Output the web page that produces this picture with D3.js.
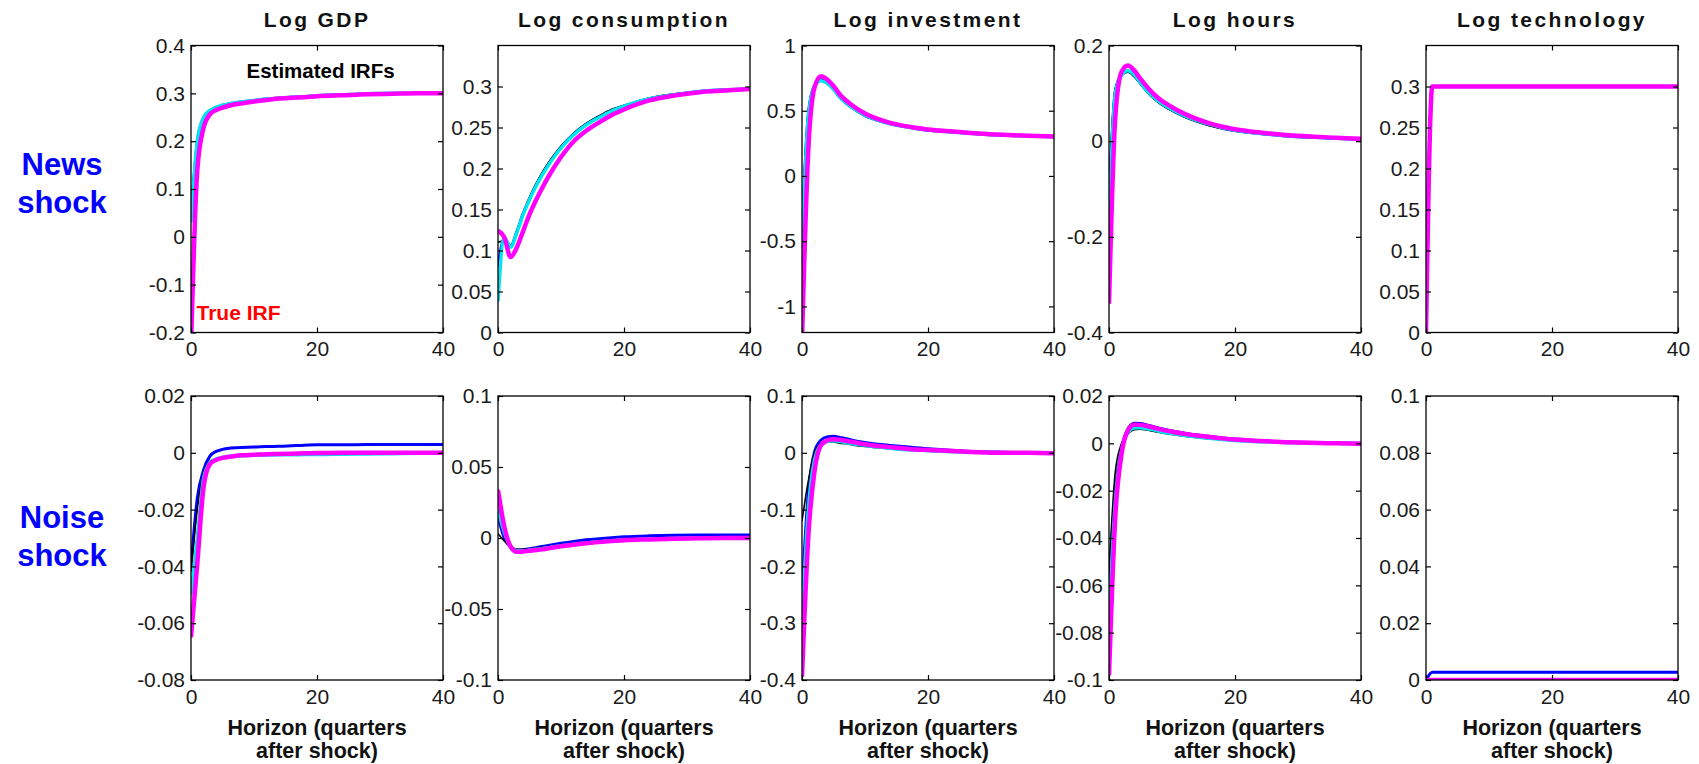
<!DOCTYPE html>
<html>
<head>
<meta charset="utf-8">
<script src="https://cdn.jsdelivr.net/npm/d3@7"></script>
<style>
    body { margin: 0; background: #fff; }
    svg { display: block; font-family: "Liberation Sans", Arial, sans-serif; }
</style>
</head>
<body>
<div id="chart"></div>
<script>
// Horizons (quarters after shock) at which the IRFs are read
const horizons = [0, 1, 2, 3, 4, 5, 6, 7, 8, 10, 12, 14, 16, 18, 20, 24, 28, 32, 36, 40];

const panelTitles = ["Log GDP", "Log consumption", "Log investment", "Log hours", "Log technology"];
const rowLabels = [["News", "shock"], ["Noise", "shock"]];
const xTicks = [0, 20, 40];
const xLabel = ["Horizon (quarters", "after shock)"];

// Y ranges and tick labels, news row then noise row
const newsYDomains = [[-0.2, 0.4], [0, 0.35], [-1.2, 1], [-0.4, 0.2], [0, 0.35]];
const newsYTicks = [
    [-0.2, -0.1, 0, 0.1, 0.2, 0.3, 0.4],
    [0, 0.05, 0.1, 0.15, 0.2, 0.25, 0.3],
    [-1, -0.5, 0, 0.5, 1],
    [-0.4, -0.2, 0, 0.2],
    [0, 0.05, 0.1, 0.15, 0.2, 0.25, 0.3]
];
const noiseYDomains = [[-0.08, 0.02], [-0.1, 0.1], [-0.4, 0.1], [-0.1, 0.02], [0, 0.1]];
const noiseYTicks = [
    [-0.08, -0.06, -0.04, -0.02, 0, 0.02],
    [-0.1, -0.05, 0, 0.05, 0.1],
    [-0.4, -0.3, -0.2, -0.1, 0, 0.1],
    [-0.1, -0.08, -0.06, -0.04, -0.02, 0, 0.02],
    [0, 0.02, 0.04, 0.06, 0.08, 0.1]
];

// News shock: estimated IRFs (blue, black, cyan) and true IRF (magenta)
const newsGdpBlue    = [0.04, 0.198, 0.249, 0.264, 0.27, 0.275, 0.278, 0.28, 0.282, 0.285, 0.288, 0.29, 0.292, 0.293, 0.295, 0.297, 0.298, 0.299, 0.3, 0.3];
const newsGdpBlack   = [0.06, 0.195, 0.248, 0.263, 0.27, 0.275, 0.278, 0.28, 0.282, 0.285, 0.288, 0.29, 0.292, 0.294, 0.295, 0.297, 0.299, 0.3, 0.301, 0.301];
const newsGdpCyan    = [0.03, 0.2, 0.25, 0.264, 0.271, 0.275, 0.278, 0.28, 0.282, 0.285, 0.288, 0.29, 0.292, 0.293, 0.295, 0.297, 0.299, 0.3, 0.3, 0.301];
const newsGdpTrue    = [-0.23, 0.14, 0.228, 0.256, 0.265, 0.27, 0.274, 0.277, 0.279, 0.283, 0.286, 0.289, 0.291, 0.292, 0.294, 0.296, 0.298, 0.299, 0.3, 0.3];

const newsConsBlue   = [0.08, 0.114, 0.105, 0.123, 0.145, 0.163, 0.179, 0.193, 0.205, 0.226, 0.242, 0.254, 0.263, 0.271, 0.276, 0.285, 0.29, 0.294, 0.296, 0.297];
const newsConsBlack  = [0.11, 0.112, 0.106, 0.124, 0.146, 0.165, 0.181, 0.195, 0.207, 0.227, 0.243, 0.255, 0.264, 0.272, 0.277, 0.286, 0.291, 0.294, 0.296, 0.297];
const newsConsCyan   = [0.038, 0.116, 0.104, 0.122, 0.144, 0.162, 0.178, 0.192, 0.204, 0.225, 0.241, 0.253, 0.262, 0.27, 0.276, 0.285, 0.29, 0.294, 0.296, 0.297];
const newsConsTrue   = [0.124, 0.116, 0.092, 0.104, 0.124, 0.144, 0.161, 0.176, 0.19, 0.214, 0.233, 0.246, 0.256, 0.265, 0.272, 0.283, 0.289, 0.293, 0.295, 0.297];

const newsInvBlue    = [-0.45, 0.47, 0.695, 0.735, 0.713, 0.667, 0.603, 0.558, 0.523, 0.463, 0.427, 0.4, 0.38, 0.364, 0.351, 0.336, 0.322, 0.313, 0.306, 0.301];
const newsInvBlack   = [-0.35, 0.5, 0.7, 0.74, 0.715, 0.665, 0.6, 0.555, 0.52, 0.46, 0.425, 0.398, 0.378, 0.363, 0.35, 0.335, 0.321, 0.312, 0.305, 0.3];
const newsInvCyan    = [-0.55, 0.45, 0.69, 0.73, 0.71, 0.665, 0.605, 0.56, 0.525, 0.465, 0.428, 0.4, 0.38, 0.365, 0.352, 0.336, 0.322, 0.313, 0.306, 0.301];
const newsInvTrue    = [-1.25, 0.2, 0.68, 0.765, 0.74, 0.69, 0.625, 0.578, 0.54, 0.478, 0.437, 0.407, 0.386, 0.37, 0.356, 0.34, 0.325, 0.315, 0.308, 0.303];

const newsHoursBlue  = [-0.13, 0.105, 0.139, 0.146, 0.137, 0.121, 0.105, 0.092, 0.081, 0.065, 0.052, 0.042, 0.034, 0.027, 0.022, 0.016, 0.011, 0.008, 0.006, 0.004];
const newsHoursBlack = [-0.09, 0.11, 0.137, 0.144, 0.135, 0.119, 0.103, 0.09, 0.079, 0.063, 0.05, 0.04, 0.032, 0.026, 0.021, 0.015, 0.011, 0.008, 0.005, 0.003];
const newsHoursCyan  = [-0.17, 0.1, 0.138, 0.147, 0.139, 0.122, 0.106, 0.093, 0.082, 0.066, 0.053, 0.043, 0.035, 0.028, 0.023, 0.016, 0.012, 0.009, 0.006, 0.004];
const newsHoursTrue  = [-0.34, 0.05, 0.145, 0.158, 0.148, 0.13, 0.114, 0.1, 0.088, 0.071, 0.057, 0.046, 0.037, 0.03, 0.025, 0.018, 0.013, 0.01, 0.007, 0.005];

const newsTechBlue   = [0, 0.3, 0.3, 0.3, 0.3, 0.3, 0.3, 0.3, 0.3, 0.3, 0.3, 0.3, 0.3, 0.3, 0.3, 0.3, 0.3, 0.3, 0.3, 0.3];
const newsTechBlack  = [0, 0.3, 0.3, 0.3, 0.3, 0.3, 0.3, 0.3, 0.3, 0.3, 0.3, 0.3, 0.3, 0.3, 0.3, 0.3, 0.3, 0.3, 0.3, 0.3];
const newsTechCyan   = [0, 0.3, 0.3, 0.3, 0.3, 0.3, 0.3, 0.3, 0.3, 0.3, 0.3, 0.3, 0.3, 0.3, 0.3, 0.3, 0.3, 0.3, 0.3, 0.3];
const newsTechTrue   = [0, 0.3, 0.3, 0.3, 0.3, 0.3, 0.3, 0.3, 0.3, 0.3, 0.3, 0.3, 0.3, 0.3, 0.3, 0.3, 0.3, 0.3, 0.3, 0.3];

// Noise shock
const noiseGdpBlue    = [-0.04, -0.016, -0.006, -0.0012, 0.0005, 0.0012, 0.0016, 0.0018, 0.0019, 0.002, 0.0022, 0.0023, 0.0025, 0.0027, 0.0028, 0.0028, 0.0029, 0.0029, 0.0029, 0.0029];
const noiseGdpBlack   = [-0.042, -0.02, -0.007, -0.003, -0.002, -0.0015, -0.0012, -0.001, -0.0009, -0.0008, -0.0008, -0.0007, -0.0006, -0.0006, -0.0005, -0.0004, -0.0003, -0.0002, -0.0002, -0.0001];
const noiseGdpCyan    = [-0.05, -0.03, -0.009, -0.0035, -0.0022, -0.0016, -0.0013, -0.0011, -0.001, -0.0009, -0.0008, -0.0007, -0.0007, -0.0006, -0.0006, -0.0005, -0.0004, -0.0003, -0.0002, -0.0002];
const noiseGdpTrue    = [-0.065, -0.039, -0.012, -0.004, -0.0025, -0.0018, -0.0014, -0.0011, -0.0009, -0.0007, -0.0005, -0.0004, -0.0003, -0.0002, -0.0001, 0, 0, 0, 0, 0];

const noiseConsBlue   = [0.015, 0, -0.0065, -0.0085, -0.0082, -0.0076, -0.0068, -0.006, -0.0052, -0.0037, -0.0024, -0.0013, -0.0005, 0.0002, 0.0008, 0.0015, 0.0019, 0.0021, 0.0022, 0.0022];
const noiseConsBlack  = [0.003, -0.002, -0.006, -0.008, -0.008, -0.0077, -0.0072, -0.0066, -0.006, -0.0048, -0.0038, -0.003, -0.0023, -0.0017, -0.0012, -0.0007, -0.0003, 0, 0, 0];
const noiseConsCyan   = [0.02, 0.004, -0.006, -0.009, -0.009, -0.0085, -0.008, -0.0075, -0.0068, -0.0055, -0.0044, -0.0035, -0.0027, -0.002, -0.0015, -0.0009, -0.0005, -0.0002, 0, 0];
const noiseConsTrue   = [0.034, 0.008, -0.006, -0.0097, -0.0095, -0.009, -0.0085, -0.008, -0.0072, -0.0058, -0.0047, -0.0037, -0.0029, -0.0022, -0.0016, -0.001, -0.0005, -0.0002, 0, 0];

const noiseInvBlue    = [-0.25, -0.07, 0.002, 0.022, 0.028, 0.029, 0.027, 0.025, 0.022, 0.018, 0.015, 0.013, 0.011, 0.009, 0.007, 0.004, 0.002, 0.001, 0, 0];
const noiseInvBlack   = [-0.12, -0.05, 0, 0.016, 0.019, 0.019, 0.017, 0.016, 0.014, 0.011, 0.009, 0.007, 0.005, 0.004, 0.003, 0.002, 0.001, 0, 0, 0];
const noiseInvCyan    = [-0.3, -0.1, -0.012, 0.014, 0.02, 0.021, 0.02, 0.018, 0.016, 0.013, 0.01, 0.008, 0.006, 0.005, 0.004, 0.002, 0.001, 0, -0.001, -0.001];
const noiseInvTrue    = [-0.394, -0.148, -0.031, 0.013, 0.022, 0.024, 0.023, 0.021, 0.019, 0.015, 0.012, 0.01, 0.008, 0.006, 0.005, 0.003, 0.001, 0, 0, -0.001];

const noiseHoursBlue  = [-0.06, -0.02, -0.002, 0.006, 0.0085, 0.0084, 0.0078, 0.0071, 0.0064, 0.0052, 0.0043, 0.0035, 0.0029, 0.0023, 0.0018, 0.0011, 0.0006, 0.0003, 0.0001, 0];
const noiseHoursBlack = [-0.055, -0.012, 0, 0.004, 0.0058, 0.006, 0.0056, 0.0051, 0.0046, 0.0037, 0.003, 0.0024, 0.0019, 0.0015, 0.0011, 0.0006, 0.0003, 0.0001, 0, -0.0001];
const noiseHoursCyan  = [-0.075, -0.025, -0.003, 0.0045, 0.0065, 0.0066, 0.0062, 0.0057, 0.0051, 0.0041, 0.0033, 0.0027, 0.0021, 0.0016, 0.0012, 0.0007, 0.0003, 0.0001, 0, -0.0002];
const noiseHoursTrue  = [-0.098, -0.031, -0.0044, 0.0055, 0.0079, 0.0078, 0.0073, 0.0067, 0.006, 0.0049, 0.004, 0.0033, 0.0027, 0.0021, 0.0016, 0.001, 0.0005, 0.0002, 0, -0.0002];

const noiseTechBlue   = [0, 0.0027, 0.0027, 0.0027, 0.0027, 0.0027, 0.0027, 0.0027, 0.0027, 0.0027, 0.0027, 0.0027, 0.0027, 0.0027, 0.0027, 0.0027, 0.0027, 0.0027, 0.0027, 0.0027];
const noiseTechBlack  = [0, 0, 0, 0, 0, 0, 0, 0, 0, 0, 0, 0, 0, 0, 0, 0, 0, 0, 0, 0];
const noiseTechCyan   = [0, 0, 0, 0, 0, 0, 0, 0, 0, 0, 0, 0, 0, 0, 0, 0, 0, 0, 0, 0];
const noiseTechTrue   = [0, 0, 0, 0, 0, 0, 0, 0, 0, 0, 0, 0, 0, 0, 0, 0, 0, 0, 0, 0];

// Series per panel, drawn in this order (true IRF on top)
const seriesStyles = [
    { color: "#0000ff", width: 3 },
    { color: "#000000", width: 1.6 },
    { color: "#00e5ee", width: 3.5 },
    { color: "#ff00ff", width: 4.5 }
];
const newsSeries = [
    [newsGdpBlue, newsGdpBlack, newsGdpCyan, newsGdpTrue],
    [newsConsBlue, newsConsBlack, newsConsCyan, newsConsTrue],
    [newsInvBlue, newsInvBlack, newsInvCyan, newsInvTrue],
    [newsHoursBlue, newsHoursBlack, newsHoursCyan, newsHoursTrue],
    [newsTechBlue, newsTechBlack, newsTechCyan, newsTechTrue]
];
const noiseSeries = [
    [noiseGdpBlue, noiseGdpBlack, noiseGdpCyan, noiseGdpTrue],
    [noiseConsBlue, noiseConsBlack, noiseConsCyan, noiseConsTrue],
    [noiseInvBlue, noiseInvBlack, noiseInvCyan, noiseInvTrue],
    [noiseHoursBlue, noiseHoursBlack, noiseHoursCyan, noiseHoursTrue],
    [noiseTechBlue, noiseTechBlack, noiseTechCyan, noiseTechTrue]
];

// Layout of the 2 x 5 grid
const width = 1699;
const height = 764;
const panelLefts = [191, 498, 802, 1109, 1426];
const panelWidth = 252;
const rowTops = [45.5, 396];
const rowHeights = [287, 284];

const svg = d3.select("#chart").append("svg")
    .attr("width", width)
    .attr("height", height);

const rows = [
    { domains: newsYDomains, ticks: newsYTicks, series: newsSeries },
    { domains: noiseYDomains, ticks: noiseYTicks, series: noiseSeries }
];

const tickFmt = d => String(d);

rows.forEach((row, r) => {
    panelTitles.forEach((title, c) => {
        const g = svg.append("g")
            .attr("transform", `translate(${panelLefts[c]}, ${rowTops[r]})`);
        const h = rowHeights[r];

        const x = d3.scaleLinear().domain([0, 40]).range([0, panelWidth]);
        const y = d3.scaleLinear().domain(row.domains[c]).range([h, 0]);

        // Clip the curves to the axes box
        const clipId = `clip-${r}-${c}`;
        g.append("clipPath").attr("id", clipId)
            .append("rect")
            .attr("width", panelWidth)
            .attr("height", h);

        const line = d3.line()
            .x((d, i) => x(horizons[i]))
            .y(d => y(d))
            .curve(d3.curveMonotoneX);

        const curves = g.append("g").attr("clip-path", `url(#${clipId})`);
        row.series[c].forEach((values, k) => {
            curves.append("path")
                .datum(values)
                .attr("fill", "none")
                .attr("stroke", seriesStyles[k].color)
                .attr("stroke-width", seriesStyles[k].width)
                .attr("stroke-linejoin", "round")
                .attr("d", line);
        });

        // Axes, ticks inside on all four sides (MATLAB box style)
        const left = g.append("g")
            .call(d3.axisLeft(y).tickValues(row.ticks[c]).tickSize(-5).tickSizeOuter(0).tickPadding(6).tickFormat(tickFmt));
        g.append("g")
            .attr("transform", `translate(${panelWidth},0)`)
            .call(d3.axisRight(y).tickValues(row.ticks[c]).tickSize(-5).tickSizeOuter(0).tickFormat(""));
        const bottom = g.append("g")
            .attr("transform", `translate(0,${h})`)
            .call(d3.axisBottom(x).tickValues(xTicks).tickSize(-5).tickSizeOuter(0).tickPadding(9).tickFormat(tickFmt));
        g.append("g")
            .call(d3.axisTop(x).tickValues(xTicks).tickSize(-5).tickSizeOuter(0).tickFormat(""));

        g.selectAll(".domain").remove();
        g.selectAll(".tick line").attr("stroke", "#000").attr("stroke-width", 1.2);
        [left, bottom].forEach(a => a.selectAll("text")
            .attr("font-size", "21px")
            .attr("font-family", "'Liberation Sans', Arial, sans-serif")
            .attr("fill", "#1a1a1a"));

        g.append("rect")
            .attr("width", panelWidth)
            .attr("height", h)
            .attr("fill", "none")
            .attr("stroke", "#000")
            .attr("stroke-width", 1.3);

        // Panel title over the news row
        if (r === 0) {
            g.append("text")
                .attr("x", panelWidth / 2)
                .attr("y", -18.5)
                .attr("text-anchor", "middle")
                .attr("font-size", "21px")
                .attr("font-weight", "bold")
                .attr("letter-spacing", "2.4px")
                .attr("fill", "#111")
                .text(title);
        }

        // Horizon label under the noise row
        if (r === 1) {
            xLabel.forEach((t, i) => {
                g.append("text")
                    .attr("x", panelWidth / 2)
                    .attr("y", h + 55 + i * 23)
                    .attr("text-anchor", "middle")
                    .attr("font-size", "21.5px")
                    .attr("font-weight", "bold")
                    .attr("fill", "#111")
                    .text(t);
            });
        }
    });
});

// Row labels on the left
const rowLabelBaselines = [175, 528];
rowLabels.forEach((lines, r) => {
    lines.forEach((t, i) => {
        svg.append("text")
            .attr("x", 62)
            .attr("y", rowLabelBaselines[r] + i * 38)
            .attr("text-anchor", "middle")
            .attr("font-size", "31px")
            .attr("font-weight", "bold")
            .attr("fill", "#0000ff")
            .text(t);
    });
});

// Annotations inside the first panel
svg.append("text")
    .attr("x", 246.5)
    .attr("y", 78)
    .attr("font-size", "20.5px")
    .attr("font-weight", "bold")
    .attr("fill", "#000")
    .text("Estimated IRFs");

svg.append("text")
    .attr("x", 196.5)
    .attr("y", 320)
    .attr("font-size", "21px")
    .attr("font-weight", "bold")
    .attr("fill", "#ff0000")
    .text("True IRF");
</script>
</body>
</html>
